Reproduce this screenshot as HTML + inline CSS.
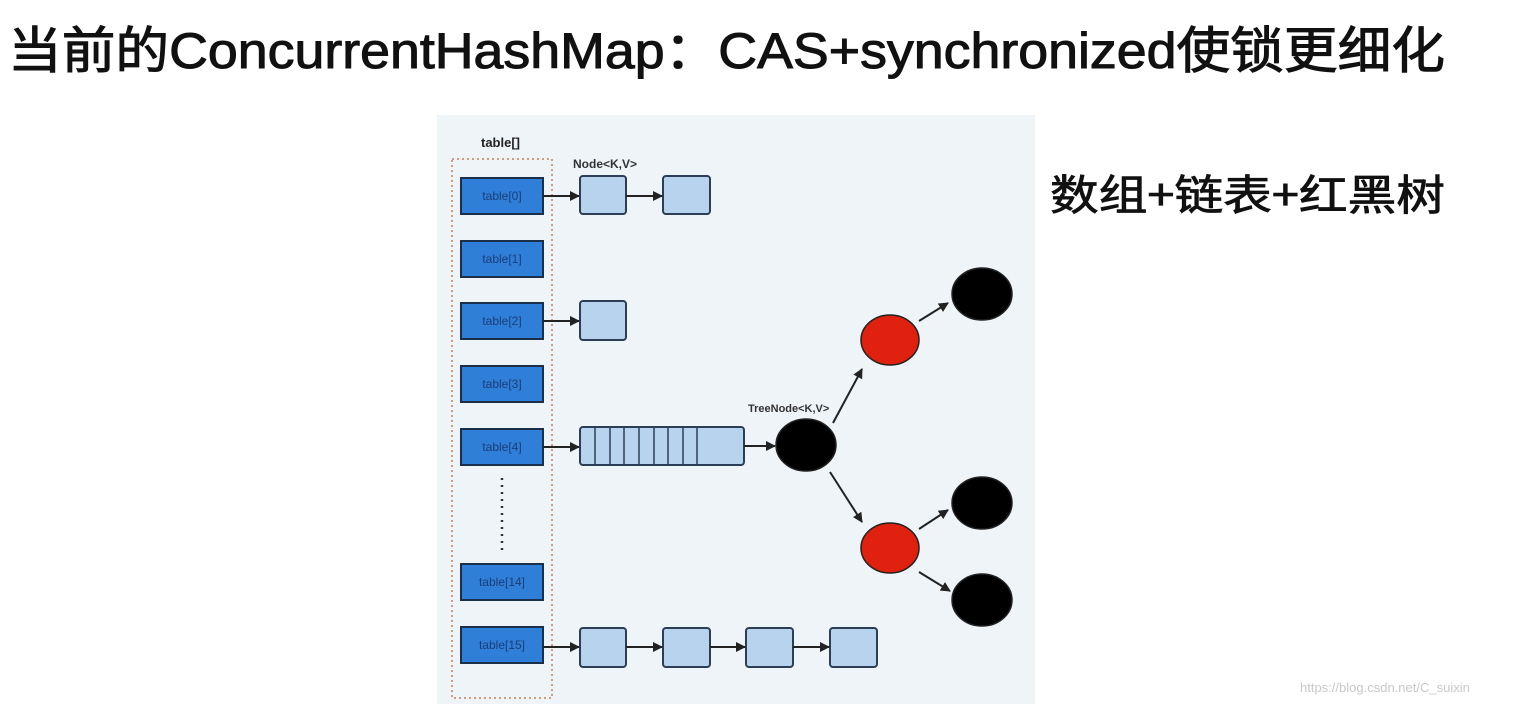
<!DOCTYPE html>
<html><head><meta charset="utf-8"><style>
html,body{margin:0;padding:0;background:#fff;width:1515px;height:704px;overflow:hidden}
svg{display:block}
</style></head><body>
<svg width="1515" height="704" viewBox="0 0 1515 704" xmlns="http://www.w3.org/2000/svg">
<defs>
<marker id="a" markerWidth="10" markerHeight="10" refX="9" refY="5" orient="auto" markerUnits="userSpaceOnUse" viewBox="0 0 10 10"><path d="M0,0 L10,5 L0,10 z" fill="#222"/></marker>
</defs>
<text x="8" y="68" font-family="Liberation Sans,'Noto Sans CJK SC',sans-serif" font-size="50" fill="#111" stroke="#111" stroke-width="1" textLength="1437" lengthAdjust="spacingAndGlyphs">当前的ConcurrentHashMap：CAS+synchronized使锁更细化</text>
<rect x="437" y="115" width="598" height="589" fill="#eef4f8"/>
<text x="1050" y="210" font-family="'Noto Sans CJK SC',sans-serif" font-size="42" fill="#111" stroke="#111" stroke-width="0.8" textLength="395" lengthAdjust="spacingAndGlyphs">数组+链表+红黑树</text>
<text x="481" y="147" font-family="Liberation Sans,sans-serif" font-weight="bold" font-size="13" fill="#222">table[]</text>
<text x="573" y="168" font-family="Liberation Sans,sans-serif" font-weight="bold" font-size="12" fill="#333">Node&lt;K,V&gt;</text>
<text x="748" y="412" font-family="Liberation Sans,sans-serif" font-weight="bold" font-size="11" fill="#333">TreeNode&lt;K,V&gt;</text>
<rect x="452" y="159" width="100" height="539" fill="none" stroke="#d49a7a" stroke-width="2" stroke-dasharray="2,3"/>
<g font-family="Liberation Sans,sans-serif" font-size="12" fill="#1a3d7a" text-anchor="middle">
<g fill="#2f7fd8" stroke="#1b2e4a" stroke-width="2">
<rect x="461" y="178" width="82" height="36"/><rect x="461" y="241" width="82" height="36"/>
<rect x="461" y="303" width="82" height="36"/><rect x="461" y="366" width="82" height="36"/>
<rect x="461" y="429" width="82" height="36"/><rect x="461" y="564" width="82" height="36"/>
<rect x="461" y="627" width="82" height="36"/>
</g>
<text x="502" y="200">table[0]</text><text x="502" y="263">table[1]</text><text x="502" y="325">table[2]</text>
<text x="502" y="388">table[3]</text><text x="502" y="451">table[4]</text><text x="502" y="586">table[14]</text><text x="502" y="649">table[15]</text>
</g>
<line x1="502" y1="478" x2="502" y2="552" stroke="#333" stroke-width="2.5" stroke-dasharray="2,5"/>
<g fill="#b7d3ee" stroke="#2c3e55" stroke-width="2">
<rect x="580" y="176" width="46" height="38" rx="3"/><rect x="663" y="176" width="47" height="38" rx="3"/>
<rect x="580" y="301" width="46" height="39" rx="3"/>
<rect x="580" y="427" width="164" height="38" rx="3"/>
<rect x="580" y="628" width="46" height="39" rx="3"/><rect x="663" y="628" width="47" height="39" rx="3"/>
<rect x="746" y="628" width="47" height="39" rx="3"/><rect x="830" y="628" width="47" height="39" rx="3"/>
</g>
<g stroke="#2c3e55" stroke-width="1.5">
<line x1="595" y1="427" x2="595" y2="465"/><line x1="610" y1="427" x2="610" y2="465"/><line x1="624" y1="427" x2="624" y2="465"/>
<line x1="639" y1="427" x2="639" y2="465"/><line x1="654" y1="427" x2="654" y2="465"/><line x1="668" y1="427" x2="668" y2="465"/>
<line x1="683" y1="427" x2="683" y2="465"/><line x1="697" y1="427" x2="697" y2="465"/>
</g>
<g stroke="#222" stroke-width="2" marker-end="url(#a)">
<line x1="543" y1="196" x2="579" y2="196"/><line x1="626" y1="196" x2="662" y2="196"/>
<line x1="543" y1="321" x2="579" y2="321"/>
<line x1="543" y1="447" x2="579" y2="447"/>
<line x1="744" y1="446" x2="775" y2="446"/>
<line x1="543" y1="647" x2="579" y2="647"/><line x1="626" y1="647" x2="662" y2="647"/>
<line x1="710" y1="647" x2="745" y2="647"/><line x1="793" y1="647" x2="829" y2="647"/>
<line x1="833" y1="423" x2="862" y2="369"/><line x1="830" y1="472" x2="862" y2="522"/>
<line x1="919" y1="321" x2="948" y2="303"/><line x1="919" y1="529" x2="948" y2="510"/>
<line x1="919" y1="572" x2="950" y2="591"/>
</g>
<g stroke="#222" stroke-width="1.5">
<ellipse cx="806" cy="445" rx="30" ry="26" fill="#000"/>
<ellipse cx="890" cy="340" rx="29" ry="25" fill="#e0210f"/>
<ellipse cx="890" cy="548" rx="29" ry="25" fill="#e0210f"/>
<ellipse cx="982" cy="294" rx="30" ry="26" fill="#000"/>
<ellipse cx="982" cy="503" rx="30" ry="26" fill="#000"/>
<ellipse cx="982" cy="600" rx="30" ry="26" fill="#000"/>
</g>
<text x="1300" y="692" font-family="Liberation Sans,sans-serif" font-size="13" fill="#c8c8c8">https://blog.csdn.net/C_suixin</text>
</svg>
</body></html>
